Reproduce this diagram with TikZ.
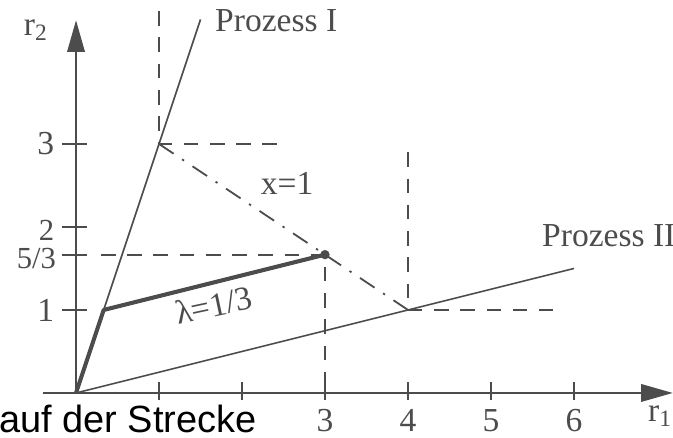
\documentclass[tikz,border=0pt]{standalone}
\usepackage{fontspec}
\setmainfont{Liberation Serif}
\newfontfamily\slidefont{Liberation Sans}
\usetikzlibrary{arrows.meta}
\definecolor{ink}{rgb}{0.30,0.30,0.30}
\begin{document}
\begin{tikzpicture}[x=1cm,y=1cm,
  font=\fontsize{11.5}{13}\selectfont, every node/.style={text=ink},
  axis/.style={draw=ink, line width=0.7pt, -{Triangle[length=3.8mm,width=2.1mm]}},
  ray/.style={draw=ink, line width=0.55pt},
  guide/.style={draw=ink, line width=0.6pt, dash pattern=on 5pt off 4pt},
  path/.style={draw=ink, line width=1.4pt, line join=round},
  mix/.style={draw=ink, line width=0.6pt, dash pattern=on 6pt off 3.5pt on 0.8pt off 3.5pt},
  small/.style={font=\fontsize{10.5}{11}\selectfont}]
\useasboundingbox (-0.916,-0.542) rectangle (7.193,4.735);
% corner points
\coordinate (O) at (0,0);
\coordinate (A) at (1/3,1);
\coordinate (P) at (1,3);
\coordinate (Q) at (4,1);
\coordinate (X) at (3,5/3);
% axes
\draw[axis] (-0.4,0) -- (7.19,0);
\draw[axis] (O) -- (0,4.49);
\node (r2) at (-0.48,4.37) {r\textsubscript{2}};
\node (r1) at (7.04,-0.28) {r\textsubscript{1}};
\foreach \i in {1,...,6} \draw[ink, line width=0.6pt] (\i,0.13) -- (\i,-0.09);
\foreach \i in {3,...,6} \node (lx\i) at (\i,-0.33) {\i};
\foreach \y in {1,5/3,2,3} \draw[ink, line width=0.6pt] (-0.17,\y) -- (0.13,\y);
\node[anchor=east, inner sep=1pt] (ly1) at (-0.22,1) {1};
\node[anchor=east, inner sep=1pt, small] (ly53) at (-0.2,1.62) {5/3};
\node[anchor=east, inner sep=1pt, small] (ly2) at (-0.22,1.96) {2};
\node[anchor=east, inner sep=1pt] (ly3) at (-0.22,3) {3};
% process rays
\draw[ray] (O) -- (1.5,4.5) coordinate (Iend);
\draw[ray] (O) -- (6,1.5) coordinate (IIend);
\node[anchor=base west, inner sep=0pt] (pI) at (1.67,4.35) {Prozess I};
\node[anchor=base west, inner sep=0pt] (pII) at (5.61,1.76) {Prozess II};
% guide lines
\draw[guide] (1,4.6) -- (P) -- (2.55,3);
\draw[guide] (4,2.9) -- (Q) -- (5.75,1);
\draw[guide] (0.3,5/3) -- (X) -- (3,0);
% x = 1 line
\draw[mix] (P) -- (Q);
\node[anchor=base west, inner sep=0pt] (xl) at (2.22,2.39) {x=1};
% lambda path
\draw[path] (O) -- (A) -- (X);
\fill[ink] (X) circle (1.6pt);
\node[rotate=12] (lam) at (1.66,1.06) {λ=1/3};
\node[anchor=base west, inner sep=0pt, text=black,
  font=\slidefont\fontsize{13}{15}\selectfont] (note) at (-0.93,-0.48) {auf der Strecke};
\end{tikzpicture}
\end{document}
